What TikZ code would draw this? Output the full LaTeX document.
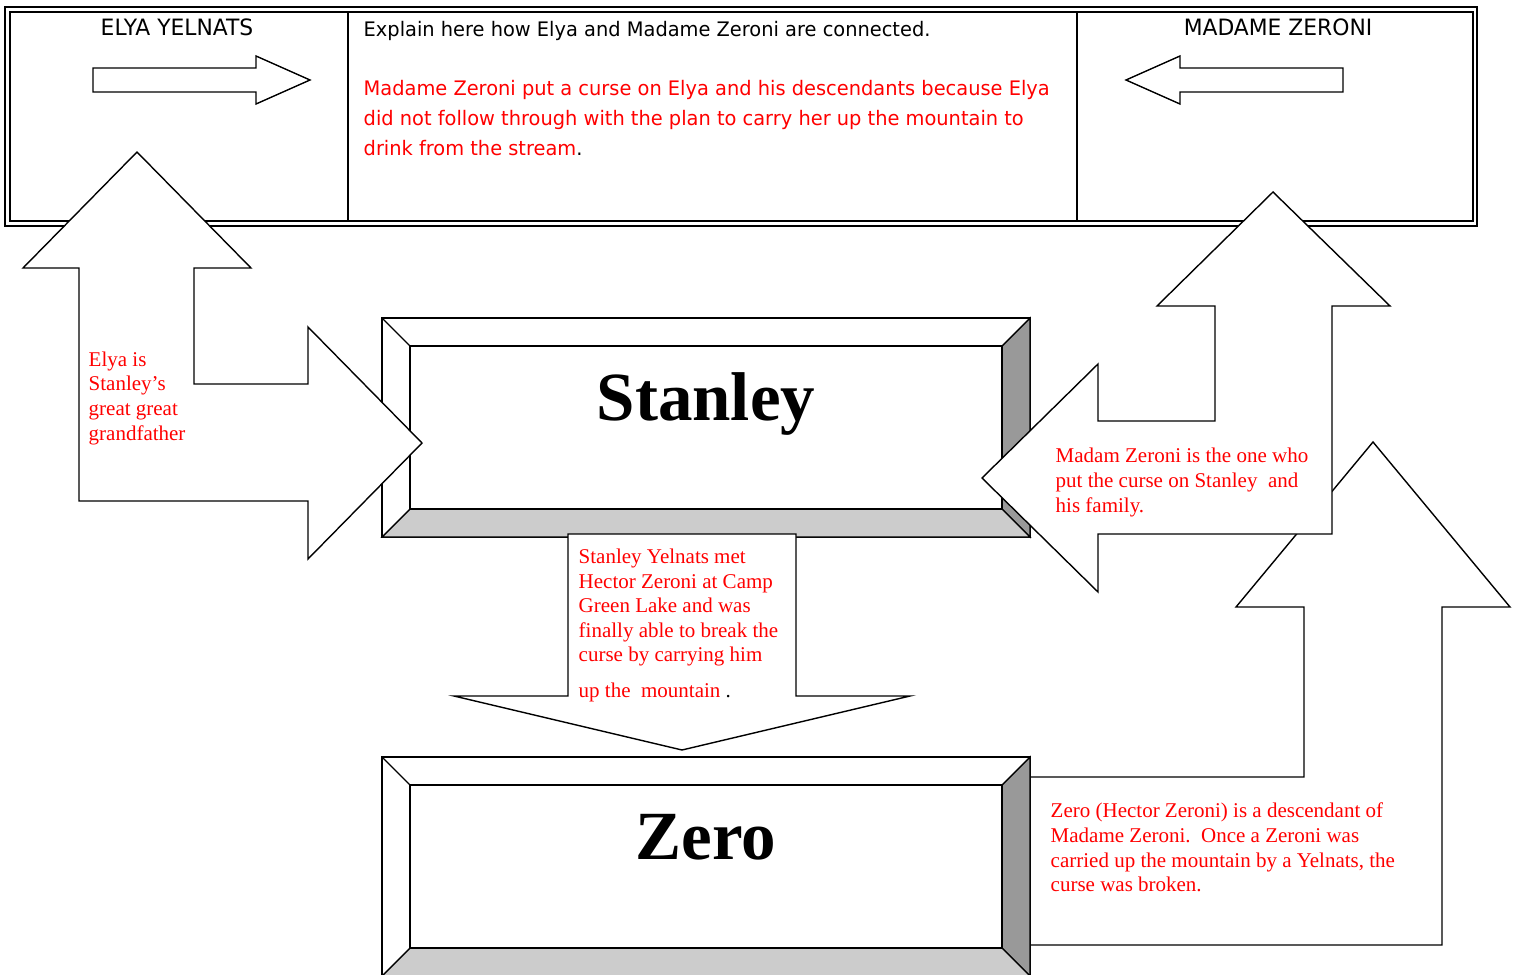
\documentclass[tikz,border=0pt]{standalone}
\usepackage{fontspec}
\setmainfont{Liberation Serif}
\newfontfamily\comicfont[FakeStretch=0.97]{DejaVu Sans}
\tikzset{
  blockarrow/.style={draw, fill=white, line join=miter},
  comictxt/.style={anchor=base west, inner sep=0pt, font=\comicfont\fontsize{20}{30}\selectfont},
  headtxt/.style={anchor=base, inner sep=0pt, font=\comicfont\fontsize{22.5}{30}\selectfont},
  redtxt/.style={anchor=base west, inner sep=0pt, text=red, font=\fontsize{21}{25}\selectfont},
  bigname/.style={anchor=base, inner sep=0pt, font=\fontsize{69}{80}\selectfont\bfseries}
}
\begin{document}
\begin{tikzpicture}[x=1pt,y=-1pt,line width=1.4pt]
\useasboundingbox (0,0) rectangle (1522,974);
\clip (0,0) rectangle (1522,974);
\fill[white] (0,0) rectangle (1522,974);

\draw (5,7) rectangle (1477,226);
\draw (10,12) rectangle (1473,221);
\draw (348,12) -- (348,221);
\draw (1077,12) -- (1077,221);

\node[headtxt] (elyahead) at (177,36) {ELYA YELNATS};
\node[headtxt] (zeronihead) at (1278,36) {MADAME ZERONI};
\node[comictxt] (explain) at (363,37) {Explain here how Elya and Madame Zeroni are connected.};
\node[comictxt, text=red] (curse1) at (363,95) {Madame Zeroni put a curse on Elya and his descendants because Elya};
\node[comictxt, text=red] (curse2) at (363,125) {did not follow through with the plan to carry her up the mountain to};
\node[comictxt, text=red] (curse3) at (363,155) {drink from the stream\textcolor{black}{.}};

\draw[blockarrow] (93,68) -- (256,68) -- (256,56) -- (310,80) -- (256,104) -- (256,92) -- (93,92) -- cycle;
\draw[blockarrow] (1343,68) -- (1180,68) -- (1180,56) -- (1126,80) -- (1180,104) -- (1180,92) -- (1343,92) -- cycle;

\draw[blockarrow] (1373,442) -- (1510,607) -- (1442,607) -- (1442,945) -- (950,945) -- (950,777) -- (1304,777) -- (1304,607) -- (1236,607) -- cycle;

\foreach \yt/\yb/\nm in {318/537/Stanley, 757/976/Zero} {
  \draw[fill=white] (382,\yt) rectangle (1030,\yb);
  \draw[fill=black!40] (1030,\yt) -- (1030,\yb) -- (1002,\yb-28) -- (1002,\yt+28) -- cycle;
  \draw[fill=black!20] (382,\yb) -- (1030,\yb) -- (1002,\yb-28) -- (410,\yb-28) -- cycle;
  \draw[fill=white] (410,\yt+28) rectangle (1002,\yb-28);
  \draw (382,\yt) -- (410,\yt+28);
  \node[bigname] (\nm) at (706,\yt+102) {\nm};
}

\draw[blockarrow] (568,534) -- (796,534) -- (796,696) -- (910,696) -- (682,750) -- (454,696) -- (568,696) -- cycle;

\draw[blockarrow] (137,152) -- (251,268) -- (194,268) -- (194,384) -- (308,384) -- (308,327) -- (422,443) -- (308,559) -- (308,501) -- (79,501) -- (79,268) -- (23,268) -- cycle;

\draw[blockarrow] (982,478) -- (1098,364) -- (1098,421) -- (1215,421) -- (1215,306) -- (1157,306) -- (1273,192) -- (1390,306) -- (1332,306) -- (1332,534) -- (1098,534) -- (1098,592) -- cycle;

\foreach \ln [count=\i] in {Elya is, Stanley’s, great great, grandfather}
  \node[redtxt] (elya\i) at (88,{341.3+24.7*\i}) {\ln};

\foreach \ln [count=\i] in {Stanley Yelnats met, Hector Zeroni at Camp, Green Lake and was, finally able to break the, curse by carrying him}
  \node[redtxt] (met\i) at (578,{539.4+24.4*\i}) {\ln};
\node[redtxt] (met6) at (578,697) {up the\ \ mountain\ \textcolor{black}{.}};

\foreach \ln [count=\i] in {Madam Zeroni is the one who, put the curse on Stanley\ \ and, his family.}
  \node[redtxt] (madam\i) at (1055,{437+25*\i}) {\ln};

\foreach \ln [count=\i] in {Zero (Hector Zeroni) is a descendant of, Madame Zeroni.\ \ Once a Zeroni was, {carried up the mountain by a Yelnats, the}, curse was broken.}
  \node[redtxt] (desc\i) at (1050,{793.3+24.6*\i}) {\ln};
\end{tikzpicture}
\end{document}
